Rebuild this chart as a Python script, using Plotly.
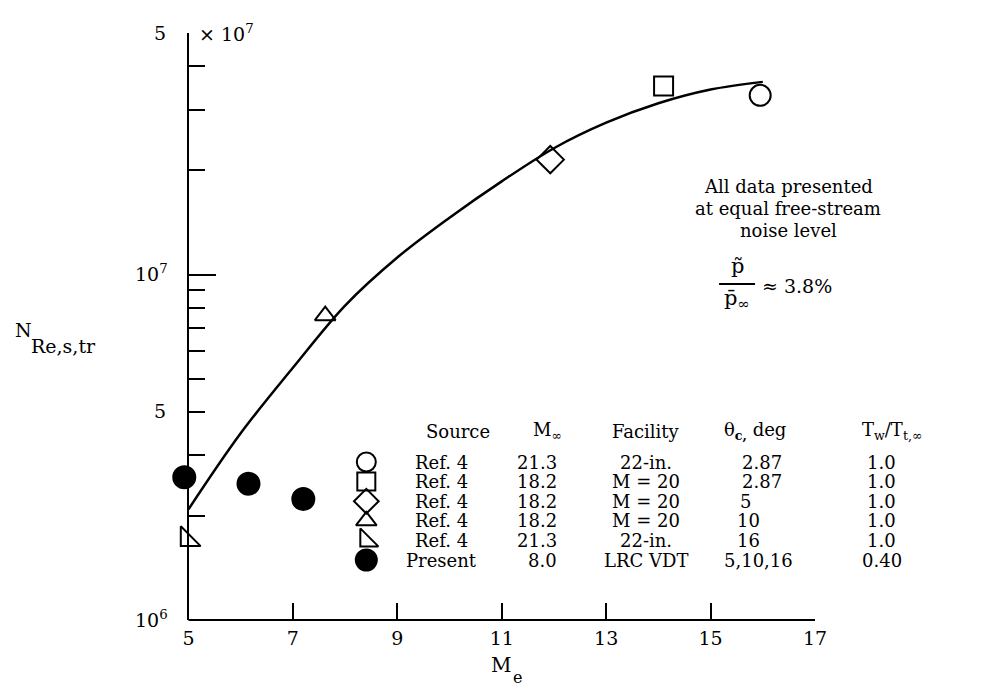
import numpy as np
import plotly.graph_objects as go

FONT = "DejaVu Serif"

# ---------------- data ----------------
# faired curve through Ref. 4 data
curve_me = [5.0, 6.0, 7.0, 8.0, 9.0, 10.0, 11.0, 12.0, 13.0, 14.0, 15.0, 16.0]
curve_n = [2.09e6, 3.47e6, 5.37e6, 8.13e6, 1.12e7, 1.46e7, 1.86e7, 2.32e7, 2.75e7, 3.13e7, 3.43e7, 3.61e7]

# Ref. 4 points
ref_circle_me, ref_circle_n = [15.95], [3.30e7]
ref_square_me, ref_square_n = [14.1], [3.51e7]
ref_diamond_me, ref_diamond_n = [11.93], [2.15e7]
ref_tri_me, ref_tri_n = [7.62], [7.6e6]
ref_rtri_me, ref_rtri_n = [4.98], [1.71e6]
# Present data
present_me = [4.92, 6.15, 7.20]
present_n = [2.59e6, 2.48e6, 2.24e6]

# key table
tbl_source = ["Ref. 4", "Ref. 4", "Ref. 4", "Ref. 4", "Ref. 4", "Present"]
tbl_minf = ["21.3", "18.2", "18.2", "18.2", "21.3", "8.0"]
tbl_facility = ["22-in.", "M = 20", "M = 20", "M = 20", "22-in.", "LRC VDT"]
tbl_theta = ["2.87", "2.87", "5", "10", "16", "5,10,16"]
tbl_tw = ["1.0", "1.0", "1.0", "1.0", "1.0", "0.40"]
tbl_symbols = ["circle-open", "square-open", "diamond-open", "triangle-up-open", "triangle-sw-open", "circle"]
tbl_sizes = [19, 18, 19, 18, 20, 21]

note_lines = ["All data presented", "at equal free-stream", "noise level"]

x_ticks = [5, 7, 9, 11, 13, 15, 17]
y_major = [1e6, 1e7]
y_major_text = ["10<sup>6</sup>", "10<sup>7</sup>"]
y_minor = [2e6, 3e6, 4e6, 5e6, 6e6, 7e6, 8e6, 9e6, 2e7, 3e7, 4e7, 5e7]

# ---------------- geometry ----------------
X_LO, X_HI = 4.8, 17.0          # axis range (y-axis line drawn at M = 5)
PX5, PX17 = 188, 815             # pixel of M=5 and M=17
PPU = (PX17 - PX5) / 12.0
PXL = PX5 - (5 - X_LO) * PPU     # left edge of plot area
PY0, PY1 = 620, 33               # bottom / top of plot area

def xp(px):
    return (px - PXL) / (PX17 - PXL)

def yp(py):
    return (PY0 - py) / (PY0 - PY1)

fig = go.Figure()
LW = 2

fig.add_trace(go.Scatter(x=curve_me, y=curve_n, mode="lines",
                         line=dict(color="black", width=2.5, shape="spline", smoothing=1.0),
                         showlegend=False, hoverinfo="skip"))

def pts(x, y, sym, size, xa="x", ya="y"):
    fig.add_trace(go.Scatter(x=x, y=y, mode="markers", showlegend=False, cliponaxis=False,
                             xaxis=xa, yaxis=ya, hoverinfo="skip",
                             marker=dict(symbol=sym, size=size, color="#000000", opacity=1,
                                         line=dict(color="#000000", width=LW))))

pts(ref_circle_me, ref_circle_n, "circle-open", 21)
pts(ref_square_me, ref_square_n, "square-open", 19)
pts(ref_diamond_me, ref_diamond_n, "diamond-open", 21)
pts(ref_tri_me, ref_tri_n, "triangle-up-open", 18)
pts(ref_rtri_me, ref_rtri_n, "triangle-sw-open", 22)
pts(present_me, present_n, "circle", 22)

# ---- key table ----
row_y0, row_dy = 462, 19.6
header_y = 431
rows_y = [row_y0 + i * row_dy for i in range(6)]
sym_x = 366

for i in range(6):
    pts([sym_x], [rows_y[i]], tbl_symbols[i], tbl_sizes[i], xa="x2", ya="y2")

ann = []
FS = 19
TS = 18

def t(x, y, text, xanchor="center", size=FS, ylog=None):
    a = dict(x=xp(x), xref="paper", text=text, showarrow=False,
             xanchor=xanchor, yanchor="middle",
             font=dict(family=FONT, size=size, color="black"))
    if ylog is not None:
        a.update(y=float(np.log10(ylog)), yref="y")
    else:
        a.update(y=yp(y), yref="paper")
    ann.append(a)

# headers
t(458, header_y, "Source", size=TS)
t(547, header_y, "M<sub>∞</sub>", size=TS)
t(646, header_y, "Facility", size=TS)
t(722, header_y, "θ<sub><b>c,</b></sub> deg", xanchor="left", size=TS)
t(860, header_y, "T<sub>w</sub>/T<sub>t,∞</sub>", xanchor="left", size=TS)

theta_x = [740, 740, 738, 735, 735, 722]
for i in range(6):
    y = rows_y[i]
    t(441, y, tbl_source[i], size=TS)
    t(559, y, tbl_minf[i], xanchor="right", size=TS)
    t(646, y, tbl_facility[i], size=TS)
    t(theta_x[i], y, tbl_theta[i], xanchor="left", size=TS)
    t(882, y, tbl_tw[i], size=TS)

# note block
for k, line in enumerate(note_lines):
    t(788, 186 + 22 * k, line, size=TS)
t(737, 266, "p̃", size=21)
t(737, 299, "p̄<sub>∞</sub>", size=21)
t(760, 286, "≈ 3.8%", xanchor="left")

# axis labels and special tick labels
t(12, 330, "N", xanchor="left", size=19)
t(28, 346, "Re,s,tr", xanchor="left", size=19)
t(501, 665, "M", size=20)
t(517, 677, "e", size=16)
t(168, None, "5", xanchor="right", ylog=5e7)
t(168, 411, "5", xanchor="right")
t(197, None, "× 10<sup>7</sup>", xanchor="left", ylog=5e7)

fig.update_layout(
    width=982, height=689,
    margin=dict(l=PXL, r=982 - PX17, t=PY1, b=689 - PY0),
    paper_bgcolor="white", plot_bgcolor="white",
    showlegend=False,
    annotations=ann,
    shapes=[
        # x-axis line, starting at the y-axis (M = 5)
        dict(type="line", xref="x", yref="paper", x0=5, x1=17, y0=0, y1=0,
             line=dict(color="black", width=2)),
        # fraction bar of p~/p_inf
        dict(type="line", xref="paper", yref="paper", x0=xp(719), x1=xp(755),
             y0=yp(284), y1=yp(284), line=dict(color="black", width=2)),
    ],
    xaxis=dict(range=[X_LO, X_HI], tickmode="array", tickvals=x_ticks,
               ticks="inside", ticklen=17, tickwidth=2, tickcolor="black",
               ticklabelstandoff=5,
               showline=False, showgrid=False, zeroline=False,
               tickfont=dict(family=FONT, size=FS, color="black")),
    yaxis=dict(type="log", range=[6, float(np.log10(5e7))], tickmode="array",
               tickvals=y_major, ticktext=y_major_text,
               anchor="free", position=xp(PX5),
               ticks="inside", ticklen=27, tickwidth=2, tickcolor="black",
               ticklabelstandoff=16,
               minor=dict(tickmode="array", tickvals=y_minor, ticks="inside",
                          ticklen=16, tickwidth=2, tickcolor="black", showgrid=False),
               showline=True, linewidth=2, linecolor="black", showgrid=False, zeroline=False,
               tickfont=dict(family=FONT, size=FS, color="black")),
    xaxis2=dict(overlaying="x", range=[PXL, PX17], visible=False, fixedrange=True),
    yaxis2=dict(overlaying="y", range=[PY0, PY1], visible=False, fixedrange=True),
)

fig.write_html("out.html")
